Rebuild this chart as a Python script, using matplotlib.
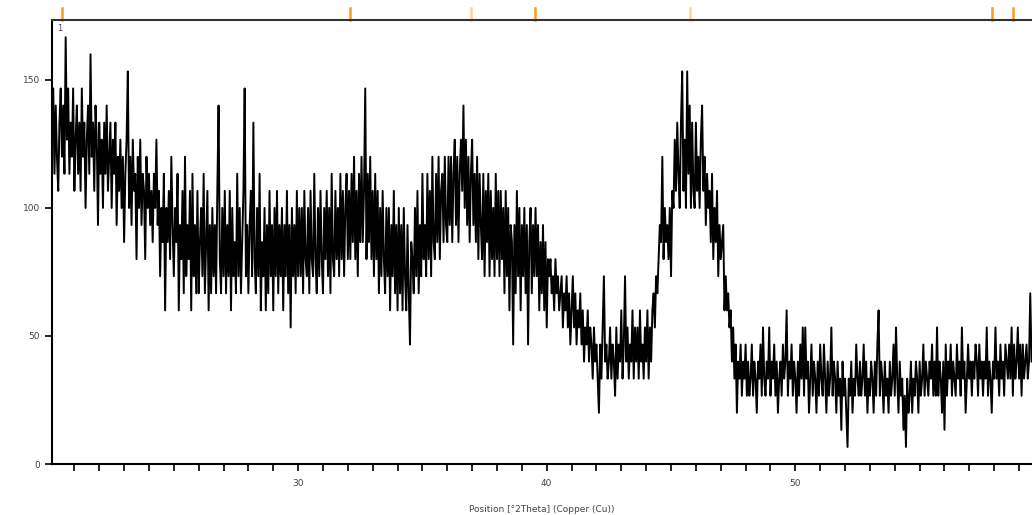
import numpy as np
import matplotlib.pyplot as plt

# XRD scan, 0.05 deg steps starting at 20.10 deg 2Theta
# values are raw counts per step; 1 count = 20/3 cps
scan_start = 20.1
scan_step = 0.05
cps_per_count = 20.0 / 3.0

counts_20_25 = [19, 22, 17, 21, 18, 16, 20, 22, 18, 21,
                17, 25, 19, 22, 17, 20, 18, 22, 16, 19,
                21, 17, 20, 16, 22, 18, 20, 15, 19, 21,
                17, 24, 18, 20, 16, 21, 19, 14, 20, 17,
                19, 15, 20, 17, 21, 16, 18, 20, 15, 19,
                17, 20, 14, 18, 16, 19, 15, 18, 13, 17,
                19, 23, 15, 18, 14, 19, 16, 17, 12, 18,
                15, 19, 14, 17, 16, 12, 18, 15, 17, 14,
                16, 13, 17, 15, 19, 14, 16, 11, 15, 13,
                17, 9, 15, 13, 16, 12, 18, 14, 11, 15]
counts_25_30 = [13, 17, 9, 14, 12, 16, 10, 18, 11, 14,
                12, 16, 9, 17, 11, 14, 10, 16, 10, 13,
                15, 11, 17, 10, 13, 16, 9, 14, 10, 15,
                11, 14, 10, 16, 21, 12, 10, 15, 11, 16,
                10, 14, 11, 16, 9, 15, 11, 13, 10, 17,
                11, 15, 10, 13, 16, 22, 11, 14, 10, 14,
                16, 11, 20, 12, 10, 15, 11, 17, 9, 13,
                11, 15, 9, 14, 10, 16, 11, 14, 9, 15,
                11, 16, 10, 14, 11, 15, 9, 14, 11, 16,
                10, 14, 8, 15, 11, 14, 10, 16, 11, 15]
counts_30_35 = [11, 15, 10, 16, 12, 11, 15, 10, 16, 12,
                11, 17, 12, 10, 15, 11, 16, 12, 10, 15,
                12, 16, 11, 15, 10, 17, 12, 11, 16, 12,
                15, 11, 17, 12, 16, 11, 15, 17, 12, 16,
                12, 17, 13, 18, 12, 16, 11, 17, 13, 18,
                13, 16, 22, 12, 17, 13, 18, 12, 16, 11,
                17, 12, 16, 10, 15, 11, 16, 12, 10, 15,
                11, 15, 9, 14, 11, 16, 10, 14, 9, 15,
                10, 14, 9, 15, 11, 9, 14, 10, 7, 13,
                12, 10, 15, 11, 16, 10, 14, 11, 17, 12]
counts_35_40 = [14, 11, 17, 12, 16, 11, 18, 13, 12, 17,
                13, 18, 12, 16, 17, 13, 18, 14, 13, 18,
                14, 18, 13, 17, 19, 14, 18, 13, 17, 19,
                16, 21, 15, 19, 14, 18, 13, 17, 19, 14,
                17, 13, 18, 12, 17, 14, 12, 17, 11, 16,
                13, 17, 11, 16, 12, 15, 11, 17, 12, 16,
                11, 16, 12, 15, 10, 16, 11, 15, 9, 14,
                13, 7, 14, 10, 16, 11, 15, 9, 14, 11,
                15, 10, 14, 7, 13, 15, 10, 14, 11, 15,
                11, 14, 9, 13, 10, 14, 9, 13, 8, 12]
counts_40_45 = [11, 12, 10, 11, 9, 12, 10, 11, 9, 10,
                11, 8, 10, 9, 11, 8, 10, 7, 9, 11,
                8, 10, 7, 9, 8, 10, 7, 9, 6, 8,
                7, 9, 6, 8, 7, 5, 8, 6, 7, 5,
                3, 7, 5, 8, 11, 6, 7, 5, 6, 8,
                5, 7, 6, 4, 8, 5, 7, 6, 9, 5,
                7, 11, 6, 8, 5, 7, 6, 9, 5, 8,
                6, 8, 5, 9, 6, 7, 5, 8, 6, 9,
                5, 8, 6, 9, 10, 8, 11, 10, 12, 14,
                13, 18, 12, 15, 13, 14, 12, 15, 11, 16]
counts_45_50 = [15, 19, 16, 20, 17, 15, 20, 23, 16, 19,
                15, 23, 17, 21, 15, 20, 16, 15, 20, 16,
                18, 15, 19, 21, 16, 18, 14, 17, 15, 16,
                13, 17, 12, 15, 13, 16, 11, 14, 12, 13,
                14, 9, 11, 9, 10, 8, 9, 6, 8, 5,
                7, 3, 6, 5, 7, 4, 6, 5, 7, 4,
                6, 4, 5, 7, 4, 6, 5, 3, 6, 5,
                7, 4, 8, 5, 4, 6, 5, 8, 4, 6,
                5, 7, 4, 6, 3, 5, 6, 4, 7, 5,
                6, 9, 4, 6, 5, 7, 4, 6, 5, 3]
counts_50_55 = [6, 4, 7, 5, 8, 4, 8, 5, 6, 3,
                5, 7, 4, 6, 5, 3, 6, 4, 7, 5,
                4, 7, 5, 3, 6, 4, 5, 8, 4, 6,
                5, 3, 6, 4, 5, 2, 6, 4, 5, 3,
                1, 5, 4, 6, 3, 5, 4, 7, 5, 4,
                6, 4, 5, 7, 4, 6, 3, 5, 4, 6,
                5, 3, 6, 4, 7, 9, 4, 6, 5, 3,
                6, 4, 5, 3, 6, 4, 5, 7, 4, 8,
                5, 3, 6, 4, 5, 2, 4, 1, 5, 3,
                4, 6, 3, 5, 4, 6, 5, 3, 6, 4]
counts_55_60 = [5, 7, 4, 6, 5, 4, 6, 5, 7, 4,
                6, 4, 8, 4, 6, 5, 3, 6, 2, 7,
                4, 6, 5, 7, 4, 6, 5, 4, 7, 5,
                6, 4, 8, 5, 6, 3, 5, 7, 5, 6,
                4, 6, 5, 7, 6, 4, 7, 5, 6, 4,
                6, 5, 8, 4, 6, 5, 3, 6, 5, 8,
                5, 6, 4, 7, 5, 6, 4, 7, 6, 5,
                7, 5, 8, 4, 7, 5, 6, 8, 5, 7,
                4, 7, 5, 6, 7, 5, 6, 10, 6, 6]

# reference peak markers along the top (position, strong?)
ref_pos = [20.5, 32.1, 36.96, 39.54, 45.77, 57.93, 58.77]
ref_strong = [True, True, False, True, False, True, True]

counts = np.array(counts_20_25 + counts_25_30 + counts_30_35 + counts_35_40
                  + counts_40_45 + counts_45_50 + counts_50_55 + counts_55_60)
two_theta = scan_start + scan_step * np.arange(len(counts))
intensity = counts * cps_per_count

fig = plt.figure(figsize=(10.32, 5.15), dpi=100)
ax = fig.add_axes([52 / 1032, 1 - 464 / 515, 1 - 52 / 1032, 444 / 515])

ax.plot(two_theta, intensity, color='black', lw=1.4)

ax.set_xlim(20.1, 59.52)
ax.set_ylim(0, 173.4)

ax.set_yticks([0, 50, 100, 150])
ax.set_xticks([30, 40, 50])
ax.set_xticks(np.arange(21, 60), minor=True)
ax.tick_params(axis='both', direction='out', colors='black', labelcolor='#444444',
               labelsize=6.5, width=1.2, length=5)
ax.tick_params(axis='x', which='minor', direction='out', width=1.2, length=5)
ax.tick_params(axis='x', pad=6)

for s in ['left', 'bottom']:
    ax.spines[s].set_linewidth(1.5)
ax.spines['right'].set_visible(False)
ax.spines['top'].set_linewidth(1.5)
ax.spines['top'].set_color('#333333')

ax.set_xlabel('Position [°2Theta] (Copper (Cu))', fontsize=6.5, color='#444444',
              labelpad=12)

# reference markers above the frame
trans = ax.get_xaxis_transform()
for p, strong in zip(ref_pos, ref_strong):
    ax.plot([p, p], [1.0, 1.027], transform=trans, clip_on=False,
            color='#ff9a1a' if strong else '#ffd29a', lw=1.8)
ax.text(20.42, 0.99, '1', transform=trans, fontsize=6, color='#6a3060',
        ha='center', va='top')

fig.savefig('out.png', dpi=100)
